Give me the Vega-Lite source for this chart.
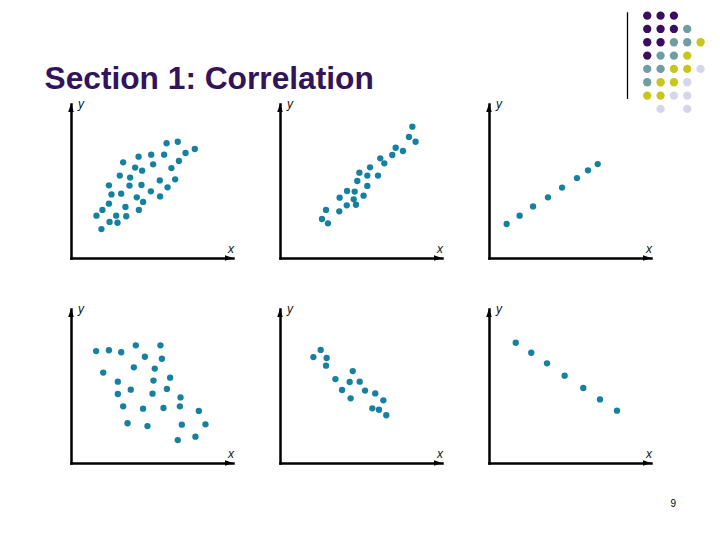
{
  "$schema": "https://vega.github.io/schema/vega-lite/v6.json",
  "autosize": {"type": "pad"},
  "padding": {"left": 44, "top": 11.3, "right": 0, "bottom": 0},
  "background": "white",
  "bounds": "flush",
  "spacing": 4.7,
  "config": {
    "view": {"stroke": null},
    "font": "Liberation Sans",
    "header": {"labels": false, "title": null},
    "headerFacet": {"labels": false, "title": null},
    "headerColumn": {"labels": false, "title": null},
    "headerRow": {"labels": false, "title": null}
  },
  "vconcat": [
    {
      "width": 636.5,
      "height": 86.6,
      "title": {
        "text": "Section 1: Correlation",
        "orient": "bottom",
        "anchor": "start",
        "frame": "group",
        "baseline": "alphabetic",
        "offset": 0,
        "dx": -26.5,
        "dy": -24,
        "font": "Liberation Sans",
        "fontSize": 31.7,
        "fontWeight": "bold",
        "color": "#33135b"
      },
      "layer": [
        {
          "data": {"values": [{"sep": "line"}]},
          "mark": {"type": "rule", "color": "#000000", "strokeWidth": 1.3},
          "encoding": {
            "x": {"datum": -1.48, "type": "quantitative", "scale": {"domain": [-43.22, 4.52], "nice": false, "zero": false}, "axis": null},
            "y": {"datum": -0.25, "type": "quantitative", "scale": {"domain": [-0.25, 6.25], "nice": false, "zero": false, "reverse": true}, "axis": null},
            "y2": {"datum": 6.25}
          }
        },
        {
          "data": {
            "values": [
              {"c": 0, "r": 0, "k": "P"}, {"c": 1, "r": 0, "k": "P"}, {"c": 2, "r": 0, "k": "P"},
              {"c": 0, "r": 1, "k": "P"}, {"c": 1, "r": 1, "k": "P"}, {"c": 2, "r": 1, "k": "P"}, {"c": 3, "r": 1, "k": "T"},
              {"c": 0, "r": 2, "k": "P"}, {"c": 1, "r": 2, "k": "P"}, {"c": 2, "r": 2, "k": "T"}, {"c": 3, "r": 2, "k": "T"}, {"c": 4, "r": 2, "k": "Y"},
              {"c": 0, "r": 3, "k": "P"}, {"c": 1, "r": 3, "k": "T"}, {"c": 2, "r": 3, "k": "T"}, {"c": 3, "r": 3, "k": "Y"},
              {"c": 0, "r": 4, "k": "T"}, {"c": 1, "r": 4, "k": "T"}, {"c": 2, "r": 4, "k": "Y"}, {"c": 3, "r": 4, "k": "Y"}, {"c": 4, "r": 4, "k": "L"},
              {"c": 0, "r": 5, "k": "T"}, {"c": 1, "r": 5, "k": "Y"}, {"c": 2, "r": 5, "k": "Y"}, {"c": 3, "r": 5, "k": "L"},
              {"c": 0, "r": 6, "k": "Y"}, {"c": 1, "r": 6, "k": "Y"}, {"c": 2, "r": 6, "k": "L"}, {"c": 3, "r": 6, "k": "L"},
              {"c": 1, "r": 7, "k": "L"}, {"c": 3, "r": 7, "k": "L"}
            ]
          },
          "mark": {"type": "circle", "size": 69, "opacity": 1, "clip": false},
          "encoding": {
            "x": {"field": "c", "type": "quantitative", "axis": null},
            "y": {"field": "r", "type": "quantitative", "axis": null},
            "color": {
              "field": "k",
              "type": "nominal",
              "scale": {"domain": ["P", "T", "Y", "L"], "range": ["#3b0d60", "#6e9ea1", "#c9c51c", "#d5d5eb"]},
              "legend": null
            }
          }
        }
      ]
    },
    {
      "title": {
        "text": "9",
        "orient": "bottom",
        "anchor": "end",
        "frame": "bounds",
        "baseline": "alphabetic",
        "offset": 0,
        "dx": 24.5,
        "dy": 41.5,
        "font": "Liberation Sans",
        "fontSize": 10,
        "fontWeight": "normal",
        "color": "#000000"
      },
      "data": {
        "values": [
          {"p": 1, "x": 5.90, "y": 7.45}, {"p": 1, "x": 6.59, "y": 7.55}, {"p": 1, "x": 7.64, "y": 7.08}, {"p": 1, "x": 7.07, "y": 6.82},
          {"p": 1, "x": 4.17, "y": 6.58}, {"p": 1, "x": 4.95, "y": 6.71}, {"p": 1, "x": 5.75, "y": 6.71}, {"p": 1, "x": 3.22, "y": 6.21},
          {"p": 1, "x": 5.07, "y": 6.08}, {"p": 1, "x": 6.66, "y": 6.30}, {"p": 1, "x": 6.20, "y": 5.84}, {"p": 1, "x": 3.96, "y": 5.87},
          {"p": 1, "x": 4.39, "y": 5.67}, {"p": 1, "x": 3.01, "y": 5.35}, {"p": 1, "x": 3.65, "y": 5.22}, {"p": 1, "x": 5.48, "y": 5.04},
          {"p": 1, "x": 6.43, "y": 5.11}, {"p": 1, "x": 2.34, "y": 4.72}, {"p": 1, "x": 3.61, "y": 4.70}, {"p": 1, "x": 4.35, "y": 4.74},
          {"p": 1, "x": 5.96, "y": 4.59}, {"p": 1, "x": 2.50, "y": 4.13}, {"p": 1, "x": 3.10, "y": 4.18}, {"p": 1, "x": 4.93, "y": 4.33},
          {"p": 1, "x": 5.50, "y": 4.00}, {"p": 1, "x": 4.06, "y": 3.94}, {"p": 1, "x": 4.45, "y": 3.64}, {"p": 1, "x": 2.34, "y": 3.53},
          {"p": 1, "x": 3.36, "y": 3.31}, {"p": 1, "x": 1.94, "y": 3.12}, {"p": 1, "x": 4.19, "y": 3.12}, {"p": 1, "x": 1.57, "y": 2.75},
          {"p": 1, "x": 2.79, "y": 2.75}, {"p": 1, "x": 3.41, "y": 2.71}, {"p": 1, "x": 2.38, "y": 2.34}, {"p": 1, "x": 2.87, "y": 2.29},
          {"p": 1, "x": 1.88, "y": 1.88},
          {"p": 2, "x": 8.17, "y": 8.53}, {"p": 2, "x": 7.96, "y": 7.86}, {"p": 2, "x": 8.37, "y": 7.55}, {"p": 2, "x": 7.14, "y": 7.16},
          {"p": 2, "x": 7.59, "y": 6.95}, {"p": 2, "x": 6.93, "y": 6.69}, {"p": 2, "x": 6.19, "y": 6.47}, {"p": 2, "x": 6.44, "y": 6.15},
          {"p": 2, "x": 5.56, "y": 5.89}, {"p": 2, "x": 4.90, "y": 5.54}, {"p": 2, "x": 5.39, "y": 5.35}, {"p": 2, "x": 6.05, "y": 5.35},
          {"p": 2, "x": 4.77, "y": 5.00}, {"p": 2, "x": 5.39, "y": 4.68}, {"p": 2, "x": 4.14, "y": 4.35}, {"p": 2, "x": 4.61, "y": 4.31},
          {"p": 2, "x": 3.68, "y": 3.92}, {"p": 2, "x": 5.16, "y": 4.05}, {"p": 2, "x": 4.55, "y": 3.81}, {"p": 2, "x": 4.12, "y": 3.42},
          {"p": 2, "x": 4.69, "y": 3.46}, {"p": 2, "x": 2.84, "y": 3.12}, {"p": 2, "x": 3.66, "y": 3.03}, {"p": 2, "x": 2.59, "y": 2.53},
          {"p": 2, "x": 2.96, "y": 2.25},
          {"p": 3, "x": 1.09, "y": 2.21}, {"p": 3, "x": 1.89, "y": 2.75}, {"p": 3, "x": 2.72, "y": 3.35}, {"p": 3, "x": 3.64, "y": 3.94},
          {"p": 3, "x": 4.51, "y": 4.57}, {"p": 3, "x": 5.43, "y": 5.19}, {"p": 3, "x": 6.11, "y": 5.69}, {"p": 3, "x": 6.71, "y": 6.10},
          {"p": 4, "x": 1.55, "y": 7.27}, {"p": 4, "x": 2.34, "y": 7.32}, {"p": 4, "x": 3.10, "y": 7.19}, {"p": 4, "x": 4.00, "y": 7.64},
          {"p": 4, "x": 5.52, "y": 7.64}, {"p": 4, "x": 4.56, "y": 6.90}, {"p": 4, "x": 5.61, "y": 6.77}, {"p": 4, "x": 1.99, "y": 5.87},
          {"p": 4, "x": 3.88, "y": 6.21}, {"p": 4, "x": 5.17, "y": 6.13}, {"p": 4, "x": 2.89, "y": 5.28}, {"p": 4, "x": 5.09, "y": 5.35},
          {"p": 4, "x": 6.12, "y": 5.54}, {"p": 4, "x": 3.69, "y": 4.76}, {"p": 4, "x": 2.89, "y": 4.48}, {"p": 4, "x": 5.03, "y": 4.50},
          {"p": 4, "x": 5.92, "y": 4.81}, {"p": 4, "x": 6.76, "y": 4.26}, {"p": 4, "x": 3.22, "y": 3.68}, {"p": 4, "x": 4.45, "y": 3.53},
          {"p": 4, "x": 5.71, "y": 3.57}, {"p": 4, "x": 6.72, "y": 3.68}, {"p": 4, "x": 7.89, "y": 3.38}, {"p": 4, "x": 3.49, "y": 2.58},
          {"p": 4, "x": 4.72, "y": 2.40}, {"p": 4, "x": 6.84, "y": 2.49}, {"p": 4, "x": 8.30, "y": 2.51}, {"p": 4, "x": 6.59, "y": 1.49},
          {"p": 4, "x": 7.68, "y": 1.71},
          {"p": 5, "x": 2.06, "y": 6.88}, {"p": 5, "x": 2.51, "y": 7.34}, {"p": 5, "x": 2.88, "y": 6.82}, {"p": 5, "x": 2.84, "y": 6.32},
          {"p": 5, "x": 4.49, "y": 5.97}, {"p": 5, "x": 3.42, "y": 5.45}, {"p": 5, "x": 4.30, "y": 5.26}, {"p": 5, "x": 4.92, "y": 5.28},
          {"p": 5, "x": 3.83, "y": 4.74}, {"p": 5, "x": 5.25, "y": 4.70}, {"p": 5, "x": 5.88, "y": 4.52}, {"p": 5, "x": 4.36, "y": 4.20},
          {"p": 5, "x": 6.38, "y": 4.07}, {"p": 5, "x": 5.70, "y": 3.55}, {"p": 5, "x": 6.11, "y": 3.46}, {"p": 5, "x": 6.56, "y": 3.10},
          {"p": 6, "x": 1.65, "y": 7.81}, {"p": 6, "x": 2.61, "y": 7.16}, {"p": 6, "x": 3.58, "y": 6.47}, {"p": 6, "x": 4.67, "y": 5.67},
          {"p": 6, "x": 5.82, "y": 4.87}, {"p": 6, "x": 6.85, "y": 4.13}, {"p": 6, "x": 7.90, "y": 3.40},
          {"p": 1}, {"p": 2}, {"p": 3}, {"p": 4}, {"p": 5}, {"p": 6}
        ]
      },
      "columns": 3,
      "bounds": "flush",
      "spacing": {"row": 51, "column": 47},
      "facet": {"field": "p", "type": "ordinal", "header": {"title": null, "labels": false, "labelPadding": 0, "titlePadding": 0, "labelExpr": "''", "labelFontSize": 0}},
      "resolve": {"axis": {"x": "independent", "y": "independent"}},
      "spec": {
        "width": 162,
        "height": 154,
        "layer": [
          {
            "transform": [{"filter": "isValid(datum.x)"}],
            "mark": {"type": "circle", "size": 40, "color": "#15809f", "opacity": 1},
            "encoding": {
              "x": {
                "field": "x",
                "type": "quantitative",
                "scale": {"domain": [0, 10], "nice": false, "zero": false},
                "axis": {
                  "title": "x",
                  "domain": true,
                  "domainColor": "#000000",
                  "domainWidth": 2.5,
                  "domainCap": "square",
                  "ticks": false,
                  "labels": false,
                  "grid": false,
                  "titleX": 159.5,
                  "titleY": -5.5,
                  "titleAngle": 0,
                  "titleAlign": "center",
                  "titleBaseline": "alphabetic",
                  "titleFont": "Liberation Sans",
                  "titleFontSize": 12,
                  "titleFontStyle": "italic",
                  "titleFontWeight": "normal",
                  "titleColor": "#111111",
                  "titlePadding": 0
                }
              },
              "y": {
                "field": "y",
                "type": "quantitative",
                "scale": {"domain": [0, 10], "nice": false, "zero": false},
                "axis": {
                  "title": "y",
                  "domain": true,
                  "domainColor": "#000000",
                  "domainWidth": 2.5,
                  "domainCap": "square",
                  "ticks": false,
                  "labels": false,
                  "grid": false,
                  "titleX": 9.5,
                  "titleY": 4,
                  "titleAngle": 0,
                  "titleAlign": "center",
                  "titleBaseline": "alphabetic",
                  "titleFont": "Liberation Sans",
                  "titleFontSize": 12,
                  "titleFontStyle": "italic",
                  "titleFontWeight": "normal",
                  "titleColor": "#111111",
                  "titlePadding": 0
                }
              }
            }
          },
          {
            "transform": [{"filter": "!isValid(datum.x)"}],
            "mark": {"type": "point", "shape": "M0,0L-2,-0.7L-2,0.7Z", "size": 64, "filled": true, "color": "#000000", "opacity": 1, "clip": false},
            "encoding": {
              "x": {"datum": 10, "type": "quantitative"},
              "y": {"datum": 0, "type": "quantitative"}
            }
          },
          {
            "transform": [{"filter": "!isValid(datum.x)"}],
            "mark": {"type": "point", "shape": "M0,0L-0.7,2L0.7,2Z", "size": 64, "filled": true, "color": "#000000", "opacity": 1, "clip": false},
            "encoding": {
              "x": {"datum": 0, "type": "quantitative"},
              "y": {"datum": 10, "type": "quantitative"}
            }
          }
        ]
      }
    }
  ]
}
